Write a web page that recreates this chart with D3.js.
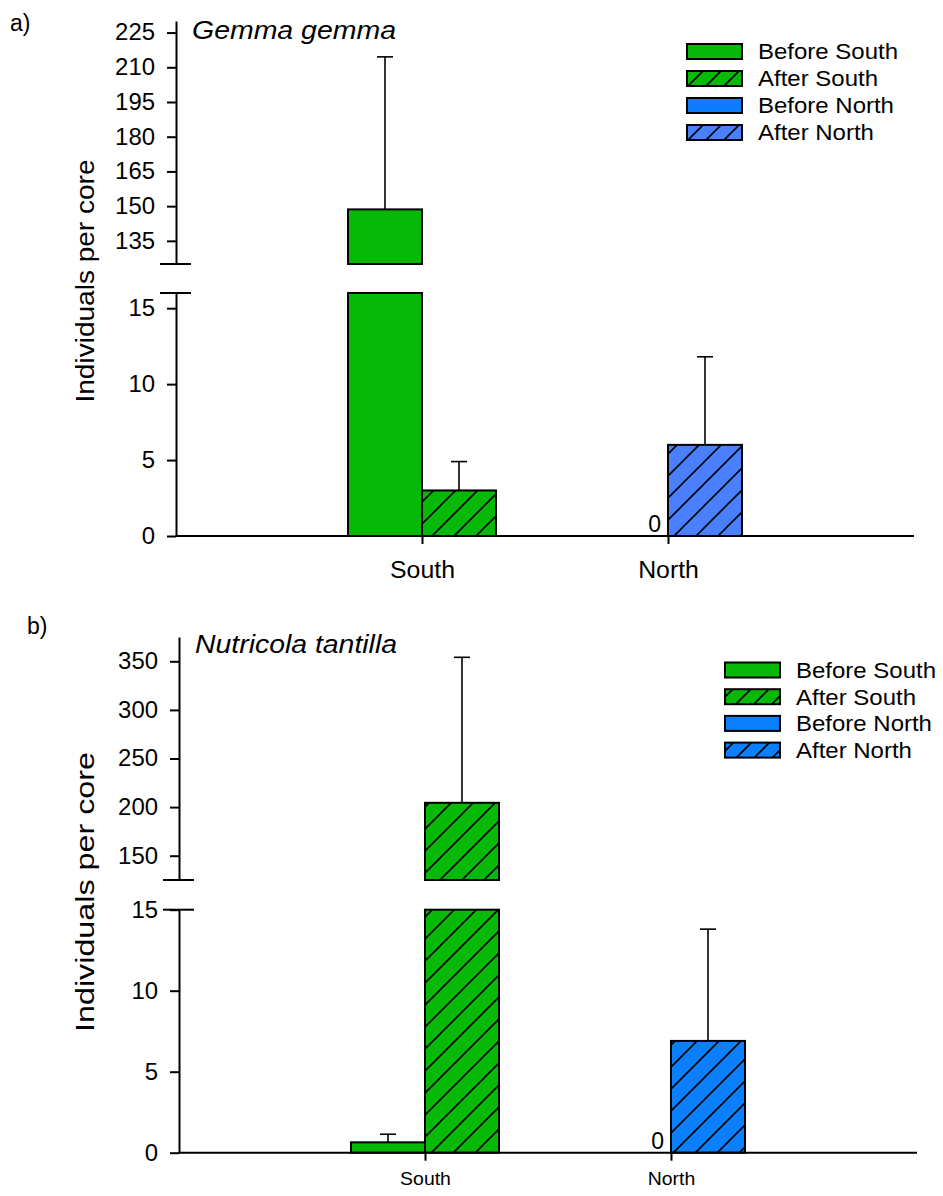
<!DOCTYPE html>
<html>
<head>
<meta charset="utf-8">
<script src="https://cdn.jsdelivr.net/npm/d3@7"></script>
<style>
  html, body { margin: 0; padding: 0; background: #fff; }
  svg { display: block; }
  text { font-family: "Liberation Sans", Arial, sans-serif; fill: #000; }
</style>
</head>
<body>
<svg id="fig" width="943" height="1196"></svg>
<script>
// ---- data ----
const sites = ["South", "North"];
const periods = ["Before", "After"];
const legendLabels = ["Before South", "After South", "Before North", "After North"];

// Gemma gemma: mean individuals per core and standard error
const gemmaBefore = [148.6, 0];
const gemmaAfter = [3.0, 6.0];
const gemmaBeforeSE = [65.9, 0];
const gemmaAfterSE = [1.9, 5.8];
const gemmaUpperDomain = [125, 230];
const gemmaLowerDomain = [0, 16];
const gemmaUpperTicks = [135, 150, 165, 180, 195, 210, 225];
const gemmaLowerTicks = [0, 5, 10, 15];

// Nutricola tantilla
const nutriBefore = [0.64, 0];
const nutriAfter = [204.4, 6.9];
const nutriBeforeSE = [0.5, 0];
const nutriAfterSE = [149.7, 6.9];
const nutriUpperDomain = [125, 375];
const nutriLowerDomain = [0, 15];
const nutriUpperTicks = [150, 200, 250, 300, 350];
const nutriLowerTicks = [0, 5, 10, 15];

const green = "#07b907";
const svg = d3.select("#fig");
const defs = svg.append("defs");

// diagonal hatch patterns
function hatch(id, color, step) {
  const p = defs.append("pattern").attr("id", id)
    .attr("patternUnits", "userSpaceOnUse")
    .attr("width", step).attr("height", step);
  p.append("rect").attr("width", step).attr("height", step).attr("fill", color);
  p.append("path")
    .attr("d", `M${-2},${2} L${2},${-2} M0,${step} L${step},0 M${step - 2},${step + 2} L${step + 2},${step - 2}`)
    .attr("stroke", "#000").attr("stroke-width", 1.6);
}

function stretch(sel, k) {
  sel.each(function () {
    const len = this.getComputedTextLength();
    d3.select(this).attr("textLength", len * k).attr("lengthAdjust", "spacingAndGlyphs");
  });
}

function drawPanel(cfg) {
  const g = svg.append("g");
  const ax = cfg.axisX;

  hatch(cfg.id + "-hs", green, 22);
  hatch(cfg.id + "-hn", cfg.afterNorth, 22);
  hatch(cfg.id + "-lhs", green, 18);
  hatch(cfg.id + "-lhn", cfg.afterNorth, 18);

  const fills = {
    South: [green, `url(#${cfg.id}-hs)`],
    North: [cfg.beforeNorth, `url(#${cfg.id}-hn)`]
  };
  const legendFills = [green, `url(#${cfg.id}-lhs)`, cfg.beforeNorth, `url(#${cfg.id}-lhn)`];

  const x = d3.scalePoint().domain(sites).range([ax, cfg.xEnd]).padding(1);
  const inner = d3.scaleBand().domain(periods).range([-cfg.barW, cfg.barW]);

  const yUp = d3.scaleLinear().domain(cfg.upperDomain).range([cfg.upperRange[0], cfg.upperRange[1]]);
  const yLo = d3.scaleLinear().domain(cfg.lowerDomain).range([cfg.lowerRange[0], cfg.lowerRange[1]]);
  const segments = [yLo, yUp];

  // bars, split over the two axis segments
  const rows = [];
  sites.forEach((s, i) => {
    periods.forEach((p, j) => {
      const mean = j === 0 ? cfg.before[i] : cfg.after[i];
      const se = j === 0 ? cfg.beforeSE[i] : cfg.afterSE[i];
      rows.push({ site: s, period: p, mean, se, fill: fills[s][j] });
    });
  });

  rows.forEach(r => {
    const x0 = x(r.site) + inner(r.period);
    segments.forEach(y => {
      const [lo, hi] = y.domain();
      if (r.mean <= lo) return;
      const top = Math.min(r.mean, hi);
      g.append("rect")
        .attr("x", x0).attr("width", inner.bandwidth())
        .attr("y", y(top)).attr("height", y(lo) - y(top))
        .attr("fill", r.fill).attr("stroke", "#000").attr("stroke-width", 2);
      if (r.mean <= hi && r.se > 0) {
        const cx = x0 + inner.bandwidth() / 2;
        g.append("line").attr("x1", cx).attr("x2", cx)
          .attr("y1", y(r.mean)).attr("y2", y(r.mean + r.se))
          .attr("stroke", "#000").attr("stroke-width", 1.6);
        g.append("line").attr("x1", cx - 8).attr("x2", cx + 8)
          .attr("y1", y(r.mean + r.se)).attr("y2", y(r.mean + r.se))
          .attr("stroke", "#000").attr("stroke-width", 1.6);
      }
    });
    if (r.mean === 0) {
      g.append("text").attr("x", x(r.site) - 7).attr("y", yLo(0) - 4)
        .attr("text-anchor", "end").attr("font-size", 23).text("0");
    }
  });

  // y axes
  function yAxis(y, ticks) {
    const a = g.append("g").attr("transform", `translate(${ax},0)`)
      .call(d3.axisLeft(y).tickValues(ticks).tickSize(9).tickSizeOuter(0).tickPadding(12));
    a.select(".domain").attr("stroke-width", 2).attr("stroke", "#000");
    a.selectAll(".tick line").attr("stroke-width", 2).attr("stroke", "#000");
    a.selectAll(".tick text").attr("font-size", 23).attr("font-family", null).attr("fill", "#000");
    stretch(a.selectAll(".tick text"), 1.04);
  }
  yAxis(yUp, cfg.upperTicks);
  yAxis(yLo, cfg.lowerTicks);

  // axis break marks
  [yUp.range()[0], yLo.range()[1]].forEach(yy => {
    g.append("line").attr("x1", ax - 16).attr("x2", ax + 15)
      .attr("y1", yy).attr("y2", yy).attr("stroke", "#000").attr("stroke-width", 2);
  });

  // x axis
  const xa = g.append("g").attr("transform", `translate(0,${yLo(0)})`)
    .call(d3.axisBottom(x).tickSize(8).tickSizeOuter(0).tickPadding(cfg.xPad));
  xa.select(".domain").attr("d", `M${ax},0H${cfg.xEnd}`).attr("stroke-width", 2).attr("stroke", "#000");
  xa.selectAll(".tick line").attr("stroke-width", 2).attr("stroke", "#000");
  xa.selectAll(".tick text").attr("font-size", cfg.xFont).attr("font-family", null).attr("fill", "#000");
  stretch(xa.selectAll(".tick text"), 1.08);

  // y axis title
  g.append("text")
    .attr("transform", `translate(${cfg.yTitleX},${cfg.yTitleY}) rotate(-90)`)
    .attr("text-anchor", "middle").attr("font-size", 26)
    .attr("textLength", cfg.yTitleLen).attr("lengthAdjust", "spacingAndGlyphs")
    .text("Individuals per core");

  // species name
  g.append("text").attr("x", cfg.titleX).attr("y", cfg.titleY)
    .attr("font-size", 25).attr("font-style", "italic")
    .attr("textLength", cfg.titleLen).attr("lengthAdjust", "spacingAndGlyphs")
    .text(cfg.title);

  // panel letter
  g.append("text").attr("x", cfg.letterX).attr("y", cfg.letterY)
    .attr("font-size", 23).text(cfg.letter);

  // legend
  const lg = g.append("g");
  legendLabels.forEach((lab, i) => {
    const cy = cfg.legY + i * cfg.legStep;
    lg.append("rect").attr("x", cfg.legX).attr("y", cy - 7.5)
      .attr("width", 55).attr("height", 15)
      .attr("fill", legendFills[i]).attr("stroke", "#000").attr("stroke-width", 2);
    const t = lg.append("text").attr("x", cfg.legX + 71).attr("y", cy)
      .attr("dy", "0.36em").attr("font-size", 22).text(lab);
    stretch(t, 1.09);
  });
}

drawPanel({
  id: "a", letter: "a)", letterX: 10, letterY: 31, title: "Gemma gemma",
  titleX: 192, titleY: 39, titleLen: 204,
  axisX: 176, xEnd: 914, barW: 74,
  upperDomain: gemmaUpperDomain, upperRange: [264, 21], upperTicks: gemmaUpperTicks,
  lowerDomain: gemmaLowerDomain, lowerRange: [536, 293], lowerTicks: gemmaLowerTicks,
  before: gemmaBefore, after: gemmaAfter, beforeSE: gemmaBeforeSE, afterSE: gemmaAfterSE,
  beforeNorth: "#0a7eff", afterNorth: "#4a80ff",
  xFont: 23, xPad: 18,
  yTitleX: 94, yTitleY: 281, yTitleLen: 243,
  legX: 687, legY: 51.5, legStep: 27
});

drawPanel({
  id: "b", letter: "b)", letterX: 27, letterY: 634, title: "Nutricola tantilla",
  titleX: 195, titleY: 653, titleLen: 202,
  axisX: 179, xEnd: 917, barW: 74,
  upperDomain: nutriUpperDomain, upperRange: [880, 637], upperTicks: nutriUpperTicks,
  lowerDomain: nutriLowerDomain, lowerRange: [1152.7, 909.7], lowerTicks: nutriLowerTicks,
  before: nutriBefore, after: nutriAfter, beforeSE: nutriBeforeSE, afterSE: nutriAfterSE,
  beforeNorth: "#0a80ff", afterNorth: "#0a80ff",
  xFont: 18, xPad: 12,
  yTitleX: 94, yTitleY: 892, yTitleLen: 280,
  legX: 725, legY: 670, legStep: 26.7
});
</script>
</body>
</html>
